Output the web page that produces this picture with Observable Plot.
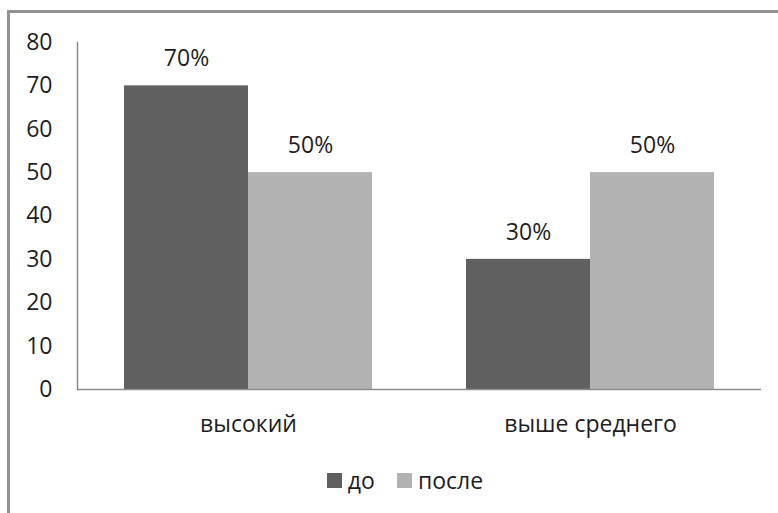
<!DOCTYPE html>
<html>
<head>
<meta charset="utf-8">
<script src="https://cdn.jsdelivr.net/npm/d3@7"></script>
<script src="https://cdn.jsdelivr.net/npm/@observablehq/plot@0.6"></script>
<style>
  html, body { margin: 0; padding: 0; background: #fff; width: 778px; height: 513px; overflow: hidden; }
  #frame { position: absolute; left: 7px; top: 10px; width: 800px; height: 520px; border-top: 3px solid #929292; border-left: 3px solid #929292; box-sizing: border-box; }
  #chart { position: absolute; left: 0; top: 0; }
  #legend { position: absolute; left: 0; width: 778px; top: 464px; display: flex; justify-content: center; align-items: center; font-family: "Open Sans", sans-serif; font-size: 23px; color: #1e1e1e; padding-left: 54px; box-sizing: border-box; }
  .item { display: flex; align-items: center; margin-right: 22px; }
  .sw { width: 15px; height: 15px; margin-right: 6px; }
</style>
</head>
<body>
<div id="frame"></div>
<div id="chart"></div>
<div id="legend"></div>
<script>
const categories = ["высокий", "выше среднего"];
const seriesNames = ["до", "после"];
const before = [70, 30];
const after = [50, 50];
const yTicks = [0, 10, 20, 30, 40, 50, 60, 70, 80];
const colors = ["#606060", "#b2b2b2"];

const data = [];
categories.forEach((c, i) => {
  data.push({cat: c, series: seriesNames[0], value: before[i]});
  data.push({cat: c, series: seriesNames[1], value: after[i]});
});

const font = "'Open Sans', sans-serif";
const plot = Plot.plot({
  width: 778,
  height: 450,
  marginLeft: 77,
  marginRight: 17,
  marginTop: 42,
  marginBottom: 61,
  style: {fontFamily: font, fontSize: "23px", color: "#1e1e1e", background: "transparent"},
  fx: {domain: categories, padding: 0, label: null, tickSize: 0, tickPadding: 26, axis: "bottom"},
  x: {domain: seriesNames, paddingInner: 0, paddingOuter: 0.379, axis: null},
  y: {domain: [0, 80], ticks: yTicks, tickSize: 0, tickPadding: 25, label: null, line: true},
  color: {domain: seriesNames, range: colors},
  marks: [
    Plot.barY(data, {fx: "cat", x: "series", y: "value", fill: "series"}),
    Plot.ruleY([0], {stroke: "#8c8c8c", strokeWidth: 1.5}),
    Plot.text(data, {fx: "cat", x: "series", y: "value", text: d => d.value + "%", dy: -27, fontSize: 23, fill: "#1e1e1e"})
  ]
});
// grey axis line (not the text)
d3.select(plot).selectAll('[aria-label*="y-axis"] line, [aria-label*="y-axis"] path, [aria-label="frame"] line, [aria-label="frame"] path, [aria-label="frame"] rect')
  .attr("stroke", "#8c8c8c").attr("stroke-width", 1.5);
document.getElementById("chart").appendChild(plot);

const leg = document.getElementById("legend");
seriesNames.forEach((s, i) => {
  const it = document.createElement("div");
  it.className = "item";
  const sw = document.createElement("div");
  sw.className = "sw";
  sw.style.background = colors[i];
  const t = document.createElement("span");
  t.textContent = s;
  it.appendChild(sw); it.appendChild(t);
  leg.appendChild(it);
});
</script>
</body>
</html>
